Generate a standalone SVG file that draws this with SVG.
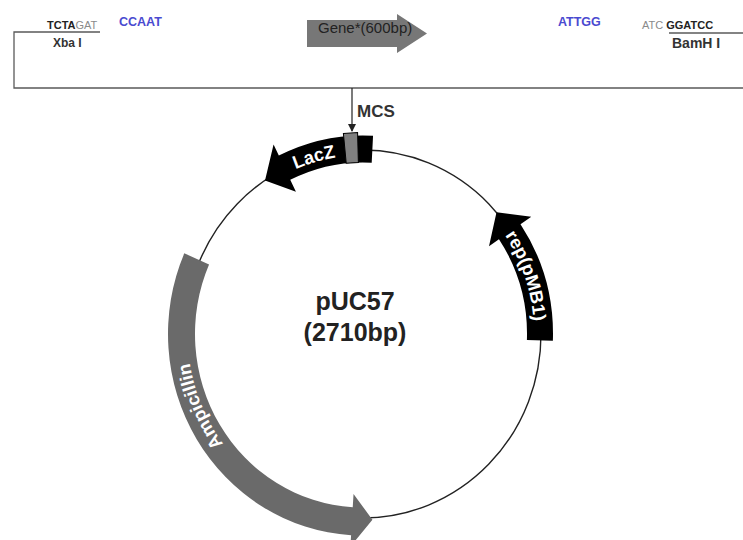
<svg xmlns="http://www.w3.org/2000/svg" width="743" height="540" viewBox="0 0 743 540">
<style>
  .frame { fill: none; stroke: #5a5a5a; stroke-width: 1.3; }
  .seq { font-family: "Liberation Sans", Arial, sans-serif; font-size: 11px; }
  .dark { fill: #222; font-weight: bold; }
  .grey { fill: #8a8a8a; }
  .blue { fill: #4a4ad0; font-weight: bold; font-size: 12.5px; }
  .site { font-family: "Liberation Sans", Arial, sans-serif; font-size: 12px; font-weight: bold; fill: #333; }
  .band-black { fill: #000; }
  .band-grey { fill: #6a6a6a; }
  .feat { font-family: "Liberation Sans", Arial, sans-serif; font-size: 18px; font-weight: bold; fill: #fff; }
  .title { font-family: "Liberation Sans", Arial, sans-serif; font-size: 25px; font-weight: bold; fill: #222; text-anchor: middle; }
</style>
<defs>
  <marker id="arr" markerWidth="8" markerHeight="8" refX="7" refY="4" orient="auto" markerUnits="userSpaceOnUse">
    <path d="M0,0 L8,4 L0,8 Z" fill="#222"/>
  </marker>
  <path id="lacz-path" d="M -111.20,-132.53 A 173 173 0 0 1 24.08,-171.32"/>
  <path id="rep-path" d="M 120.92,-120.92 A 171 171 0 0 1 169.73,20.84"/>
  <path id="amp-path" d="M -79.13,156.65 A 175.5 175.5 0 0 1 -168.01,-50.72"/>
</defs>
<rect width="743" height="540" fill="#fff"/>

<g id="insert">
  <polyline class="frame" points="100,32 14,32 14,88 743,88"/>
  <line class="frame" x1="669" y1="33" x2="743" y2="33"/>
  <text class="seq" x="47" y="29"><tspan class="dark">TCTA</tspan><tspan class="grey">GAT</tspan></text>
  <text class="site" x="53" y="47">Xba I</text>
  <text class="seq blue" x="119" y="26">CCAAT</text>
  <g id="gene">
    <polygon points="307,20 397,20 397,14 427,33.5 397,53 397,47 307,47" fill="#777"/>
    <text x="318" y="33" font-family="Liberation Sans, Arial, sans-serif" font-size="15px" fill="#222">Gene*(600bp)</text>
  </g>
  <text class="seq blue" x="558" y="26">ATTGG</text>
  <text class="seq" x="642" y="29" font-size="11.5px"><tspan class="grey">ATC </tspan><tspan class="dark">GGATCC</tspan></text>
  <text class="site" x="672" y="48" style="font-size:14px">BamH I</text>
</g>

<g id="connectors">
  <line x1="352" y1="88" x2="352" y2="131" stroke="#222" stroke-width="1.2" marker-end="url(#arr)"/>
</g>
<text class="site" x="357" y="117" style="font-size:17px">MCS</text>

<g id="backbone" transform="translate(363,334) scale(1,1.0337)">
  <circle cx="0" cy="0" r="178" fill="none" stroke="#222" stroke-width="1.4"/>
</g>

<g id="lacz" transform="translate(363,334) scale(1,1.0337)">
  <path class="band-black" d="M 10.05,-191.74 A 192 192 0 0 0 -84.17,-172.57 L -89.43,-183.36 L -97.99,-148.59 L -67.07,-137.52 L -72.77,-149.20 A 166 166 0 0 1 8.69,-165.77 Z"/>
  <text class="feat" text-anchor="middle"><textPath href="#lacz-path" startOffset="50%">LacZ</textPath></text>
</g>

<g id="mcs" transform="translate(363,334) scale(1,1.0337)">
  <path d="M -19.61,-194.01 L -5.42,-194.92 L -4.63,-165.93 L -16.78,-165.15 Z" fill="#808080" stroke="#000" stroke-width="1"/>
</g>

<g id="rep" transform="translate(363,334) scale(1,1.0337)">
  <path class="band-black" d="M 189.88,6.63 A 190 190 0 0 0 157.52,-106.25 L 168.29,-113.52 L 133.52,-117.71 L 126.01,-85.00 L 135.96,-91.71 A 164 164 0 0 1 163.90,5.72 Z"/>
  <text class="feat" text-anchor="middle"><textPath href="#rep-path" startOffset="50%">rep(pMB1)</textPath></text>
</g>

<g id="amp" transform="translate(363,334) scale(1,1.0337)">
  <path class="band-grey" d="M -178.69,-78.07 A 195 195 0 0 0 -11.90,194.64 L -12.58,205.61 L 9.42,179.75 L -9.46,154.71 L -10.26,167.69 A 168 168 0 0 1 -153.95,-67.26 Z"/>
  <text class="feat" text-anchor="middle"><textPath href="#amp-path" startOffset="50%">Ampicillin</textPath></text>
</g>

<g id="plasmid-label">
  <text class="title" x="355" y="310">pUC57</text>
  <text class="title" x="355" y="341">(2710bp)</text>
</g>
</svg>
